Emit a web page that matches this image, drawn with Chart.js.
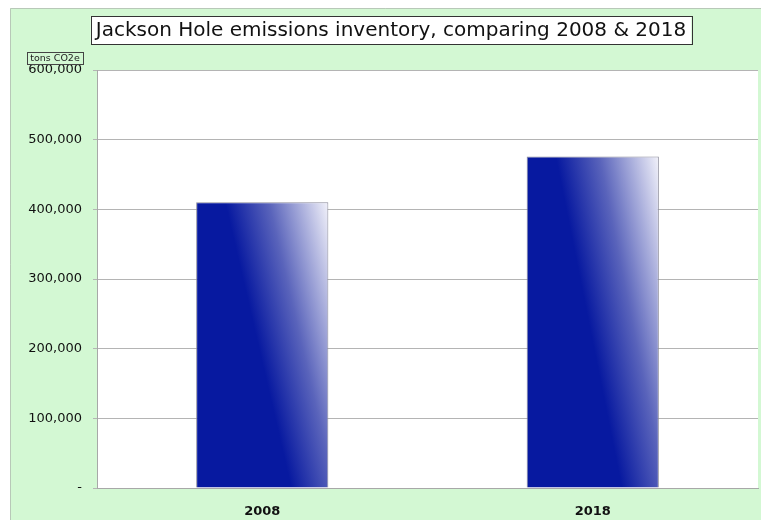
<!DOCTYPE html>
<html>
<head>
<meta charset="utf-8">
<title>Jackson Hole emissions inventory</title>
<script src="https://cdn.jsdelivr.net/npm/chart.js"></script>
<style>
  html, body { margin: 0; padding: 0; background: #ffffff; }
  #wrap { width: 761px; height: 520px; position: relative; }
</style>
</head>
<body>
<div id="wrap"><canvas id="emissionsChart"></canvas></div>
<script>
// Chart data
const years = ["2008", "2018"];
const emissions = [410000, 476000];
const yTicks = [0, 100000, 200000, 300000, 400000, 500000, 600000];

const titleText = "Jackson Hole emissions inventory, comparing 2008 & 2018";
const unitText = "tons CO2e";

const barDark = "#0719a0";
const barLight = "#f2f2fa";
const panelGreen = "#d3f8d3";

// Diagonal gradient for each bar, built from the bar's own pixel box
function barGradient(context) {
  const chart = context.chart;
  const { ctx, scales } = chart;
  if (!chart.chartArea) return barDark;
  const i = context.dataIndex;
  const xScale = scales.x;
  const yScale = scales.y;
  const w = (xScale.width / years.length) * 0.4;
  const x0 = xScale.getPixelForValue(i) - w / 2;
  const yTop = yScale.getPixelForValue(emissions[i]);
  const h = yScale.getPixelForValue(0) - yTop;
  // t = u - 0.5 v  (u across the bar, v down the bar)
  const a = 1 / w;
  const b = -0.5 / h;
  const n = a * a + b * b;
  const g = ctx.createLinearGradient(x0, yTop, x0 + a / n, yTop + b / n);
  g.addColorStop(0, barDark);
  g.addColorStop(0.22, barDark);
  g.addColorStop(0.55, "#5a64bb");
  g.addColorStop(1, barLight);
  return g;
}

// Green panel behind the chart, white plot area, boxed texts
const panelPlugin = {
  id: "panel",
  beforeDraw(chart) {
    const { ctx, chartArea } = chart;
    ctx.save();
    ctx.fillStyle = panelGreen;
    ctx.fillRect(10, 8, chart.width - 10, chart.height - 8);
    ctx.strokeStyle = "#b8c8b8";
    ctx.lineWidth = 1;
    ctx.beginPath();
    ctx.moveTo(10.5, chart.height);
    ctx.lineTo(10.5, 8.5);
    ctx.lineTo(chart.width, 8.5);
    ctx.stroke();
    ctx.fillStyle = "#ffffff";
    ctx.fillRect(chartArea.left, chartArea.top, chartArea.width, chartArea.height);
    ctx.restore();
  },
  afterDraw(chart) {
    const ctx = chart.ctx;
    ctx.save();
    // boxed title
    ctx.font = "20px 'DejaVu Sans'";
    ctx.textBaseline = "middle";
    ctx.textAlign = "center";
    const tw = ctx.measureText(titleText).width;
    const cx = 391;
    ctx.fillStyle = "#ffffff";
    ctx.fillRect(cx - tw / 2 - 5, 16, tw + 10, 28);
    ctx.strokeStyle = "#333333";
    ctx.lineWidth = 1;
    ctx.strokeRect(Math.round(cx - tw / 2 - 5) + 0.5, 16.5, Math.round(tw + 10), 28);
    ctx.fillStyle = "#111111";
    ctx.fillText(titleText, cx, 31);

    // boxed unit label
    ctx.font = "9.5px 'DejaVu Sans'";
    const uw = ctx.measureText(unitText).width;
    const ux = 55;
    ctx.strokeStyle = "#444444";
    ctx.strokeRect(Math.round(ux - uw / 2 - 3) + 0.5, 52.5, Math.round(uw + 6), 12);
    ctx.fillStyle = "#222222";
    ctx.fillText(unitText, ux, 59);
    ctx.restore();
  },
};

const ctx = document.getElementById("emissionsChart");

new Chart(ctx, {
  type: "bar",
  data: {
    labels: years,
    datasets: [
      {
        label: "Emissions",
        data: emissions,
        backgroundColor: barGradient,
        borderColor: "#8a8a9a",
        borderWidth: 1,
        borderSkipped: "bottom",
        barPercentage: 0.4,
        categoryPercentage: 1.0,
      },
    ],
  },
  options: {
    responsive: true,
    maintainAspectRatio: false,
    animation: false,
    layout: {
      padding: { left: 10, top: 70, right: 3, bottom: 0 },
    },
    plugins: {
      legend: { display: false },
      title: { display: false },
      tooltip: { enabled: false },
    },
    scales: {
      x: {
        grid: { display: false },
        border: { display: true, color: "#a8a8a8" },
        ticks: {
          color: "#111111",
          padding: 8,
          font: { family: "'DejaVu Sans'", size: 13, weight: "bold" },
        },
        afterFit(scale) {
          scale.height = 32;
        },
      },
      y: {
        min: 0,
        max: 600000,
        afterBuildTicks(scale) {
          scale.ticks = yTicks.map((v) => ({ value: v }));
        },
        grid: {
          color: "#b4b4b4",
          tickLength: 4,
          tickColor: "#b4b4b4",
        },
        border: { display: true, color: "#a8a8a8" },
        ticks: {
          color: "#111111",
          padding: 11,
          font: { family: "'DejaVu Sans'", size: 13 },
          callback: function (value) {
            return value === 0 ? "-" : value.toLocaleString("en-US");
          },
        },
        afterFit(scale) {
          scale.width = 87;
        },
      },
    },
  },
  plugins: [panelPlugin],
});
</script>
</body>
</html>
